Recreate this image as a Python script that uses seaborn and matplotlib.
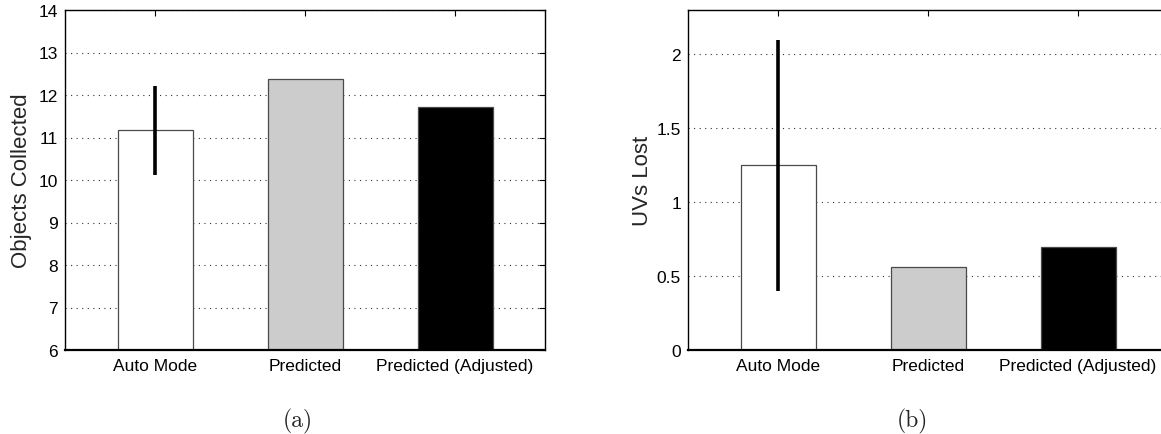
import matplotlib
matplotlib.use("Agg")
import matplotlib.pyplot as plt
import seaborn as sns
import numpy as np

# ---- data ----
categories = ["Auto Mode", "Predicted", "Predicted (Adjusted)"]
bar_colors = ["#ffffff", "#cccccc", "#000000"]

objects_vals = [11.17, 12.38, 11.72]
objects_err_low = [10.12]   # lower end of Auto Mode error bar
objects_err_high = [12.22]  # upper end of Auto Mode error bar
objects_yticks = [6, 7, 8, 9, 10, 11, 12, 13, 14]

uvs_vals = [1.25, 0.56, 0.70]
uvs_err_low = [0.40]
uvs_err_high = [2.10]
uvs_yticks = [0, 0.5, 1, 1.5, 2]
uvs_ytick_labels = ["0", "0.5", "1", "1.5", "2"]

sns.set_style("white")
plt.rcParams["font.family"] = ["Liberation Sans", "DejaVu Sans"]

W, H = 1161, 435
fig = plt.figure(figsize=(W / 100, H / 100), dpi=100)

def px_rect(left, top, right, bottom):
    return [left / W, 1 - bottom / H, (right - left) / W, (bottom - top) / H]

ax1 = fig.add_axes(px_rect(65, 11, 545, 351))
ax2 = fig.add_axes(px_rect(688, 11, 1168, 351))

def draw(ax, vals, lo, hi, ylim, yticks, yticklabels, ylabel, lpad):
    sns.barplot(x=categories, y=vals, hue=categories, palette=bar_colors,
                width=0.5, edgecolor="#4a4a4a", linewidth=0.9,
                legend=False, ax=ax, zorder=2)
    # error bar on first bar
    ax.vlines([0], lo, hi, colors="black", linewidth=2.6, zorder=3)
    ax.set_xlim(-0.6, 2.6)
    ax.set_ylim(*ylim)
    ax.set_yticks(yticks)
    ax.set_yticklabels(yticklabels)
    ax.set_axisbelow(True)
    ax.yaxis.grid(True, linestyle=(0, (1, 4)), color="#333333", linewidth=0.8)
    ax.xaxis.grid(False)
    for s in ax.spines.values():
        s.set_visible(True)
        s.set_color("black")
        s.set_linewidth(1.0)
    ax.spines["bottom"].set_linewidth(1.6)
    ax.tick_params(direction="in", length=4, width=0.8, right=True,
                   labelsize=12.5, colors="black", pad=5)
    ax.xaxis.set_ticks_position("both")
    ax.tick_params(axis="x", direction="in", length=4, width=0.8,
                   top=True, bottom=False, pad=6)
    ax.set_ylabel(ylabel, fontsize=16, labelpad=lpad)
    ax.set_xlabel("")

draw(ax1, objects_vals, objects_err_low, objects_err_high, (6, 14),
     objects_yticks, [str(t) for t in objects_yticks], "Objects Collected", 5)
draw(ax2, uvs_vals, uvs_err_low, uvs_err_high, (0, 2.3),
     uvs_yticks, uvs_ytick_labels, "UVs Lost", 3)

fig.text(298 / W, 1 - 421 / H, "(a)", ha="center", va="center",
         fontsize=17, family=["cmr10", "DejaVu Serif"])
fig.text(912 / W, 1 - 421 / H, "(b)", ha="center", va="center",
         fontsize=17, family=["cmr10", "DejaVu Serif"])

fig.savefig("out.png", dpi=100)
